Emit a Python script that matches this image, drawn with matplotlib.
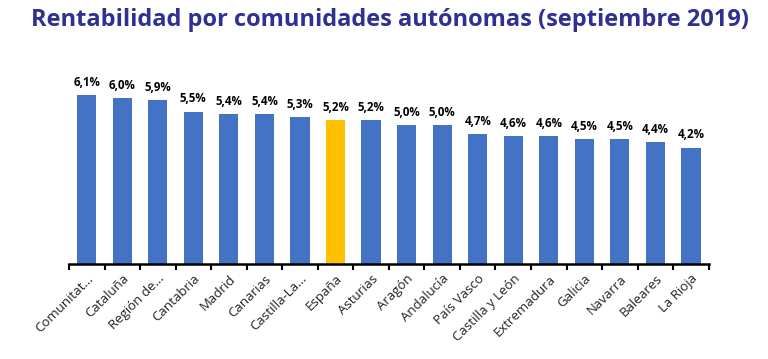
import numpy as np
import matplotlib.pyplot as plt

# datos
regiones = ["Comunitat...", "Cataluña", "Región de...", "Cantabria", "Madrid", "Canarias",
            "Castilla-La...", "España", "Asturias", "Aragón", "Andalucía", "País Vasco",
            "Castilla y León", "Extremadura", "Galicia", "Navarra", "Baleares", "La Rioja"]
rentabilidad = [6.1, 6.0, 5.9, 5.5, 5.4, 5.4, 5.3, 5.2, 5.2, 5.0, 5.0, 4.7, 4.6, 4.6, 4.5, 4.5, 4.4, 4.2]
destacado = "España"

AZUL = "#4472C4"
AMARILLO = "#FFC000"

plt.rcParams['font.family'] = ['Open Sans', 'DejaVu Sans']

fig = plt.figure(figsize=(7.68, 3.59), dpi=100)
ax = fig.add_axes([0.0898, 0.265, 0.833, 0.54])

x = np.arange(len(regiones))
colores = [AMARILLO if r == destacado else AZUL for r in regiones]
ax.bar(x, rentabilidad, width=0.54, color=colores)

for xi, v in zip(x, rentabilidad):
    ax.text(xi, v + 0.22, f"{v:.1f}%".replace(".", ","), ha='center', va='bottom',
            fontsize=8.3, fontweight='bold', color='black')

ax.set_xlim(-0.5, len(regiones) - 0.5)
ax.set_ylim(0, 7)
ax.set_xticks(x)
ax.set_xticklabels(regiones, rotation=45, ha='right', rotation_mode='anchor',
                   fontsize=9.5, color='#222222')
ax.tick_params(axis='x', which='major', length=0, pad=6)
ax.set_xticks(np.arange(len(regiones) + 1) - 0.5, minor=True)
ax.tick_params(axis='x', which='minor', length=4, width=1.5, color='black')
ax.set_yticks([])
for s in ['top', 'right', 'left']:
    ax.spines[s].set_visible(False)
ax.spines['bottom'].set_linewidth(1.8)

fig.text(0.508, 0.944, "Rentabilidad por comunidades autónomas (septiembre 2019)",
         ha='center', va='center', fontsize=17, fontweight='bold', color='#2E3192')

fig.savefig("out.png", dpi=100)
